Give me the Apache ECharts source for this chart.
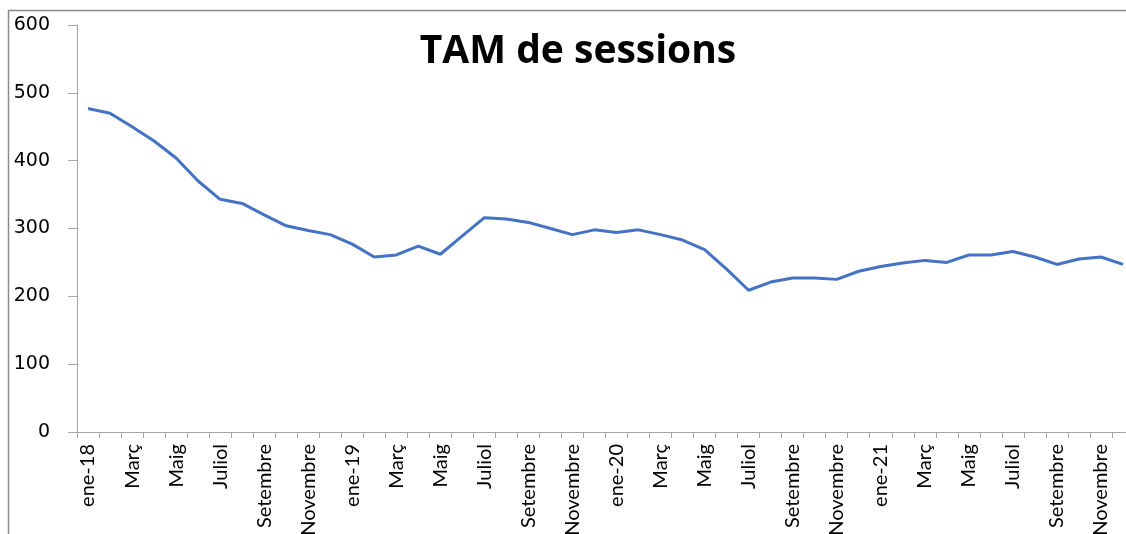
<!DOCTYPE html>
<html>
<head>
<meta charset="utf-8">
<script src="https://cdn.jsdelivr.net/npm/echarts@6/dist/echarts.min.js"></script>
<style>
  html, body { margin: 0; padding: 0; background: #fff; overflow: hidden; }
  #chart { width: 1126px; height: 534px; }
</style>
</head>
<body>
<div id="chart"></div>
<script>
// mesos de gener 2018 a desembre 2021
const months = [
  'ene-18', 'Febrer', 'Març', 'Abril', 'Maig', 'Juny', 'Juliol', 'Agost', 'Setembre', 'Octubre', 'Novembre', 'Desembre',
  'ene-19', 'Febrer', 'Març', 'Abril', 'Maig', 'Juny', 'Juliol', 'Agost', 'Setembre', 'Octubre', 'Novembre', 'Desembre',
  'ene-20', 'Febrer', 'Març', 'Abril', 'Maig', 'Juny', 'Juliol', 'Agost', 'Setembre', 'Octubre', 'Novembre', 'Desembre',
  'ene-21', 'Febrer', 'Març', 'Abril', 'Maig', 'Juny', 'Juliol', 'Agost', 'Setembre', 'Octubre', 'Novembre', 'Desembre'
]

const sessions = [
  477, 470, 450, 429, 404, 370, 343, 337, 320, 304, 297, 291,
  277, 258, 261, 274, 262, 289, 316, 314, 309, 300, 291, 298,
  294, 298, 291, 283, 269, 240, 209, 221, 227, 227, 225, 237,
  244, 249, 253, 250, 261, 261, 266, 258, 247, 255, 258, 247
]

const yTicks = { min: 0, max: 600, interval: 100 }

const chart = echarts.init(document.getElementById('chart'), null, { renderer: 'canvas' })

chart.setOption({
  backgroundColor: '#fff',
  animation: false,
  title: {
    text: 'TAM de sessions',
    left: 573,
    textAlign: 'center',
    top: 27,
    textStyle: { fontFamily: 'Open Sans', fontWeight: 'bold', fontSize: 39, color: '#000' }
  },
  graphic: [
    {
      type: 'rect',
      silent: true,
      shape: { x: 8.5, y: 10.5, width: 1300, height: 700 },
      style: { fill: 'none', stroke: '#8c8c8c', lineWidth: 1.5 }
    }
  ],
  // the plot area runs a little past the right edge, cropped as in the reference
  grid: { left: 77, width: 1057, top: 25, height: 407, containLabel: false, outerBoundsMode: 'none' },
  xAxis: {
    type: 'category',
    data: months,
    boundaryGap: true,
    axisLine: { show: true, lineStyle: { color: '#a6a6a6', width: 1 } },
    axisTick: { show: true, interval: 0, length: 6, lineStyle: { color: '#a6a6a6' } },
    axisLabel: {
      interval: 1,
      rotate: 90,
      margin: 12,
      fontFamily: 'Lato',
      fontSize: 20,
      color: '#000'
    },
    splitLine: { show: false }
  },
  yAxis: {
    type: 'value',
    min: yTicks.min,
    max: yTicks.max,
    interval: yTicks.interval,
    axisLine: { show: true, lineStyle: { color: '#a6a6a6', width: 1 } },
    axisTick: { show: true, length: 9, lineStyle: { color: '#a6a6a6' } },
    axisLabel: {
      margin: 27,
      fontFamily: 'DejaVu Sans',
      fontSize: 19,
      color: '#000'
    },
    splitLine: { show: false }
  },
  series: [
    {
      name: 'TAM de sessions',
      type: 'line',
      data: sessions,
      showSymbol: false,
      smooth: false,
      lineStyle: { color: '#4472c4', width: 3 },
      itemStyle: { color: '#4472c4' }
    }
  ]
})
</script>
</body>
</html>
